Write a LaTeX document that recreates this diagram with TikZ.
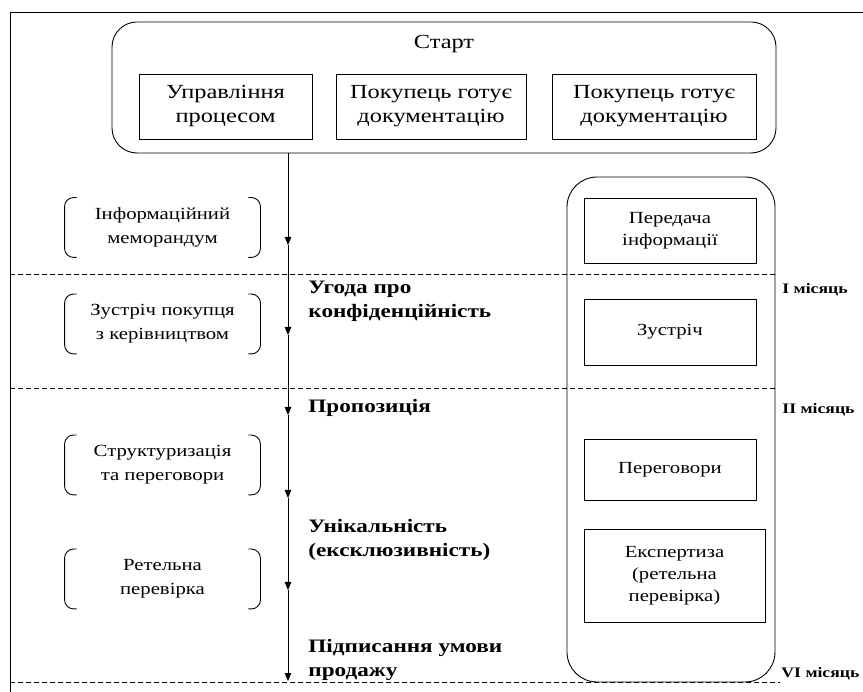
\documentclass[tikz,border=0pt]{standalone}
\usepackage{fontspec}
\setmainfont{Liberation Serif}[FakeStretch=1.22]
\usetikzlibrary{arrows.meta}

% round brackets on both sides of a node
\newcommand{\parens}[1]{%
  \draw[rounded corners=9pt] ([xshift=12pt]#1.north west) -- (#1.north west) -- (#1.south west) -- ([xshift=12pt]#1.south west);
  \draw[rounded corners=9pt] ([xshift=-12pt]#1.north east) -- (#1.north east) -- (#1.south east) -- ([xshift=-12pt]#1.south east);}

\begin{document}
\begin{tikzpicture}[x=1pt,y=-1pt,line width=0.9pt,
  startbox/.style={draw,rounded corners=25pt,minimum width=664pt,minimum height=131pt},
  sidebox/.style={draw,rounded corners=30pt,minimum width=208pt,minimum height=505pt},
  box/.style={draw,align=center,inner sep=0pt,font=\fontsize{20}{24}\selectfont},
  rbox/.style={draw,align=center,inner sep=0pt,font=\fontsize{17}{22}\selectfont},
  brk/.style={align=center,inner sep=0pt,minimum width=195pt,minimum height=59pt,font=\fontsize{17}{24}\selectfont},
  stage/.style={anchor=west,align=left,inner sep=0pt,font=\bfseries\fontsize{19}{24}\selectfont},
  month/.style={anchor=west,inner sep=0pt,font=\bfseries\fontsize{14.5}{18}\selectfont},
  sep/.style={dash pattern=on 5pt off 3pt,line width=0.8pt},
  flow/.style={-{Triangle[width=6.5pt,length=8pt]}}]
  \useasboundingbox (0,0) rectangle (863,692);

  % frame
  \draw (10,692) -- (10,12) -- (863,12);

  % start block
  \node[startbox] (start) at (444,87.5) {};
  \node[font=\fontsize{20}{24}\selectfont,inner sep=0pt] (title) at (444,44) {Старт};
  \node[box,minimum width=173pt,minimum height=65pt] (manage) at (225.5,106.5) {Управління\\процесом};
  \node[box,minimum width=190pt,minimum height=65pt] (docs1) at (431,106.5) {Покупець готує\\документацію};
  \node[box,minimum width=204pt,minimum height=65pt] (docs2) at (654,106.5) {Покупець готує\\документацію};

  % time bands
  \draw[sep] (10,274) -- (775,274);
  \draw[sep] (10,388) -- (775,388);
  \draw[sep] (10,682) -- (780,682);

  % right column
  \node[sidebox] (side) at (671,429.5) {};
  \node[rbox,minimum width=172pt,minimum height=65pt] (transfer) at (670,230.5) {Передача\\інформації};
  \node[rbox,minimum width=172pt,minimum height=66pt] (meeting) at (670,332) {Зустріч};
  \node[rbox,minimum width=172pt,minimum height=61pt] (talks) at (670,469.5) {Переговори};
  \node[rbox,minimum width=181pt,minimum height=93pt] (expert) at (674.5,575.5) {Експертиза\\(ретельна\\перевірка)};

  % left column
  \node[brk] (memo) at (162.5,227.5) {Інформаційний\\меморандум};
  \parens{memo}
  \node[brk] (buyer) at (162.5,324) {Зустріч покупця\\з керівництвом};
  \parens{buyer}
  \node[brk] (struct) at (162.5,465) {Структуризація\\та переговори};
  \parens{struct}
  \node[brk] (check) at (162.5,579) {Ретельна\\перевірка};
  \parens{check}

  % time line
  \coordinate (s0) at (288,153);
  \coordinate (s1) at (288,245);
  \coordinate (s2) at (288,335);
  \coordinate (s3) at (288,415);
  \coordinate (s4) at (288,498);
  \coordinate (s5) at (288,590);
  \coordinate (s6) at (288,681);
  \draw[flow] (s0) -- (s1);
  \draw[flow] (s1) -- (s2);
  \draw[flow] (s2) -- (s3);
  \draw[flow] (s3) -- (s4);
  \draw[flow] (s4) -- (s5);
  \draw[flow] (s5) -- (s6);

  % stages
  \node[stage] (nda) at (308,301) {Угода про\\конфіденційність};
  \node[stage] (offer) at (308,408) {Пропозиція};
  \node[stage] (excl) at (308,540) {Унікальність\\(ексклюзивність)};
  \node[stage] (sign) at (308,660) {Підписання умови\\продажу};

  % months
  \node[month] (m1) at (782,290) {I місяць};
  \node[month] (m2) at (782,410) {II місяць};
  \node[month] (m6) at (781,674) {VI місяць};
\end{tikzpicture}
\end{document}
